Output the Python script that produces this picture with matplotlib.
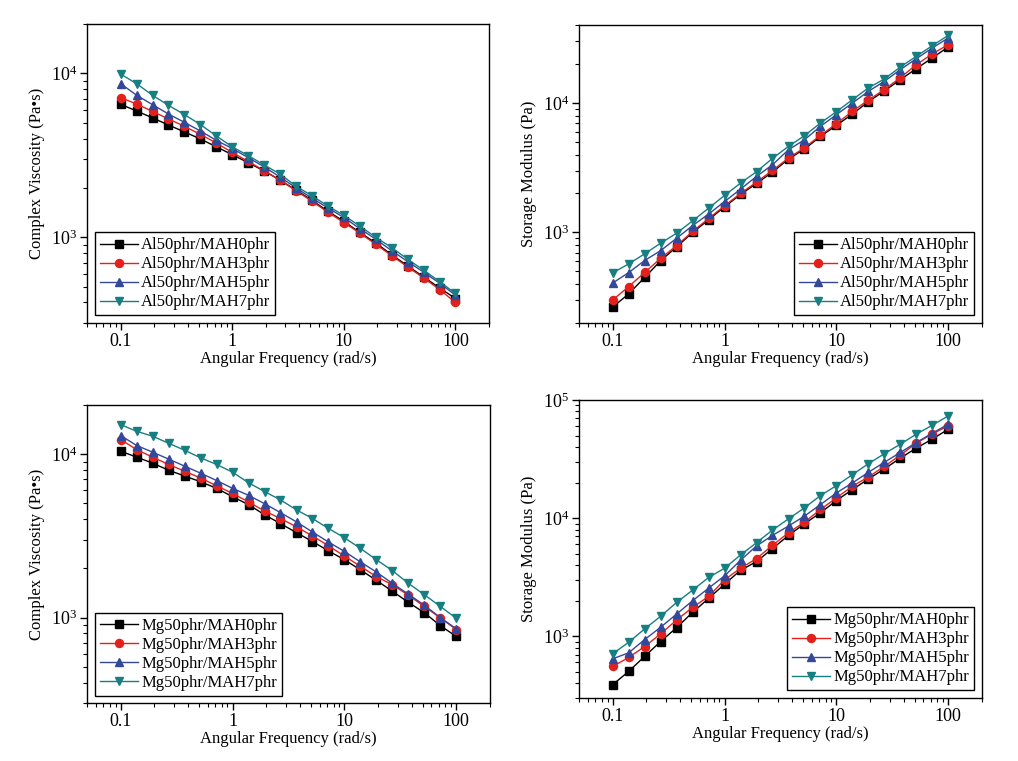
import matplotlib
matplotlib.use('Agg')
import matplotlib.pyplot as plt
import matplotlib.ticker as ticker

plt.rcParams['font.family'] = ['Liberation Serif', 'DejaVu Serif']
plt.rcParams['mathtext.fontset'] = 'custom'
plt.rcParams['mathtext.rm'] = 'Liberation Serif'

# angular frequency, 7 points per decade
freq = [0.1, 0.139, 0.193, 0.268, 0.373, 0.518, 0.72, 1, 1.39, 1.93, 2.68,
        3.73, 5.18, 7.2, 10, 13.9, 19.3, 26.8, 37.3, 51.8, 72, 100]

al_labels = ['Al50phr/MAH0phr', 'Al50phr/MAH3phr', 'Al50phr/MAH5phr', 'Al50phr/MAH7phr']
mg_labels = ['Mg50phr/MAH0phr', 'Mg50phr/MAH3phr', 'Mg50phr/MAH5phr', 'Mg50phr/MAH7phr']

# complex viscosity, Al series
al_eta0 = [6470, 5890, 5350, 4840, 4390, 3980, 3560, 3190, 2850, 2540, 2230,
           1940, 1680, 1440, 1250, 1070, 923, 783, 669, 573, 491, 423]
al_eta3 = [7110, 6500, 5860, 5270, 4750, 4240, 3760, 3290, 2900, 2550, 2230,
           1920, 1660, 1420, 1230, 1060, 906, 773, 659, 565, 480, 400]
al_eta5 = [8650, 7350, 6440, 5650, 5020, 4450, 3900, 3480, 3060, 2690, 2330,
           2000, 1730, 1510, 1320, 1130, 973, 829, 711, 613, 525, 443]
al_eta7 = [9900, 8650, 7350, 6380, 5600, 4870, 4150, 3560, 3150, 2760, 2430,
           2050, 1790, 1550, 1360, 1170, 1000, 865, 735, 630, 537, 454]

# storage modulus, Al series
al_g0 = [265, 336, 449, 604, 774, 1000, 1253, 1579, 1967, 2392, 2925,
         3690, 4410, 5520, 6720, 8220, 10240, 12390, 15150, 18430, 22290, 27100]
al_g3 = [301, 382, 491, 630, 793, 1018, 1282, 1607, 2003, 2450, 3015,
         3757, 4514, 5620, 6920, 8630, 10550, 12680, 15700, 19770, 23950, 28250]
al_g5 = [407, 490, 607, 724, 903, 1130, 1387, 1733, 2163, 2710, 3334,
         4355, 5200, 6600, 8130, 10000, 12300, 14700, 18100, 22000, 26600, 31800]
al_g7 = [488, 572, 684, 826, 988, 1230, 1541, 1933, 2406, 2946, 3733,
         4624, 5590, 7000, 8570, 10610, 13070, 15330, 18960, 22950, 27720, 33330]

# complex viscosity, Mg series
mg_eta0 = [10430, 9590, 8814, 7980, 7350, 6780, 6180, 5490, 4910, 4260, 3760,
           3310, 2920, 2560, 2260, 1960, 1690, 1450, 1240, 1070, 893, 766]
mg_eta3 = [12280, 10670, 9590, 8650, 7870, 7140, 6410, 5750, 5100, 4490, 4040,
           3590, 3160, 2750, 2380, 2060, 1780, 1590, 1370, 1170, 995, 845]
mg_eta5 = [13000, 11300, 10290, 9330, 8450, 7650, 6900, 6180, 5600, 4980, 4390,
           3850, 3340, 2900, 2540, 2190, 1900, 1620, 1390, 1190, 1000, 853]
mg_eta7 = [15170, 13800, 12880, 11670, 10570, 9500, 8650, 7760, 6680, 5910, 5250,
           4560, 4040, 3510, 3080, 2650, 2260, 1940, 1620, 1380, 1170, 990]

# storage modulus, Mg series
mg_g0 = [389, 504, 675, 902, 1183, 1593, 2090, 2760, 3620, 4280, 5520,
         7140, 8960, 11090, 14090, 17450, 21440, 26060, 32230, 39150, 46650, 56600]
mg_g3 = [555, 661, 818, 1047, 1373, 1755, 2174, 3004, 3766, 4540, 5880,
         7520, 9250, 11830, 14840, 18620, 22300, 27400, 34180, 43150, 51680, 60390]
mg_g5 = [644, 724, 937, 1191, 1542, 1998, 2553, 3245, 4400, 5810, 7140,
         8570, 10400, 13030, 16350, 19850, 24420, 29650, 35980, 43650, 52360, 62370]
mg_g7 = [710, 890, 1153, 1474, 1935, 2457, 3142, 3766, 4880, 6190, 7920,
         9860, 12220, 15520, 18850, 23330, 28880, 35060, 42270, 51370, 61170, 73330]

colors = ['#000000', '#e3211c', '#34489a', '#177f82']
markers = ['s', 'o', '^', 'v']

fig = plt.figure(figsize=(10.18, 7.61), dpi=100)

panels = [
    ([0.0855, 0.5756, 0.3949, 0.3929], [al_eta0, al_eta3, al_eta5, al_eta7], al_labels,
     'Complex Viscosity (Pa\u2022s)', (300, 20000), 'lower left'),
    ([0.5688, 0.5756, 0.3958, 0.3915], [al_g0, al_g3, al_g5, al_g7], al_labels,
     'Storage Modulus (Pa)', (200, 40000), 'lower right'),
    ([0.0855, 0.0762, 0.3958, 0.3916], [mg_eta0, mg_eta3, mg_eta5, mg_eta7], mg_labels,
     'Complex Viscosity (Pa\u2022s)', (300, 20000), 'lower left'),
    ([0.5688, 0.0828, 0.3958, 0.3916], [mg_g0, mg_g3, mg_g5, mg_g7], mg_labels,
     'Storage Modulus (Pa)', (300, 100000), 'lower right'),
]

for rect, series, labels, ylabel, ylim, loc in panels:
    ax = fig.add_axes(rect)
    for vals, lab, c, m in zip(series, labels, colors, markers):
        ax.plot(freq, vals, color=c, marker=m, markersize=5.8, linewidth=1,
                label=lab)
    ax.set_xscale('log')
    ax.set_yscale('log')
    ax.set_xlim(0.05, 200)
    ax.set_ylim(*ylim)
    ax.xaxis.set_major_formatter(ticker.FuncFormatter(lambda v, p: f'{v:g}'))
    ax.xaxis.set_minor_formatter(ticker.NullFormatter())
    ax.yaxis.set_minor_formatter(ticker.NullFormatter())
    ax.tick_params(which='both', direction='out', top=False, right=False,
                   labelsize=13, pad=2)
    ax.tick_params(which='major', length=5, width=1)
    ax.tick_params(which='minor', length=3, width=0.8)
    for s in ax.spines.values():
        s.set_linewidth(1)
    ax.set_xlabel('Angular Frequency (rad/s)', fontsize=12, labelpad=1)
    ax.set_ylabel(ylabel, fontsize=12, labelpad=4)
    leg = ax.legend(loc=loc, fontsize=12, frameon=True, fancybox=False,
                    edgecolor='black', handlelength=2.3, handletextpad=0.2,
                    labelspacing=0.18, borderpad=0.3, borderaxespad=0.45,
                    framealpha=1)
    leg.get_frame().set_linewidth(1)

fig.savefig('out.png', dpi=100)
